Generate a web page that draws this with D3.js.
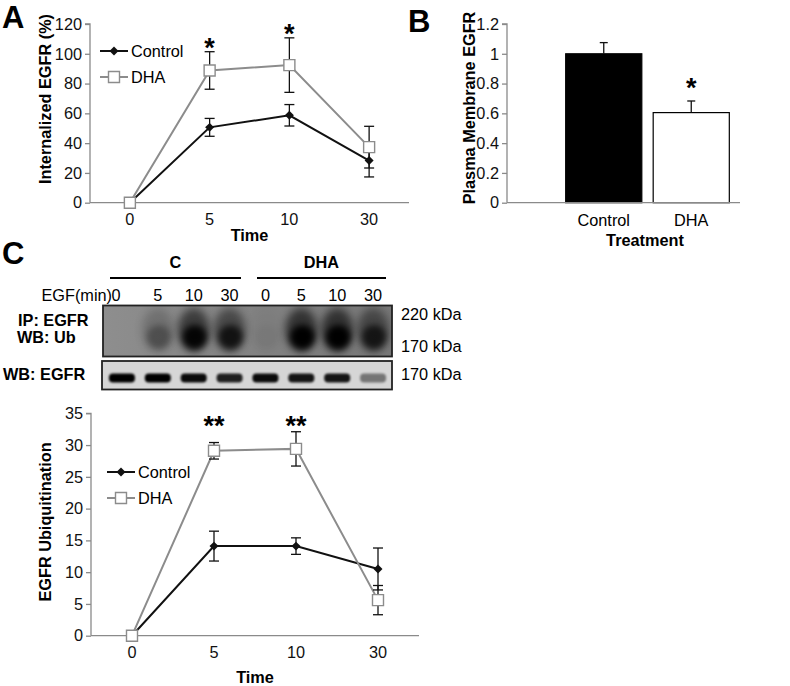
<!DOCTYPE html>
<html><head><meta charset="utf-8">
<script src="https://cdn.jsdelivr.net/npm/d3@7"></script>
<style>
html,body{margin:0;padding:0;background:#fff;}
svg{display:block;font-family:Arial,"Liberation Sans",sans-serif;}
</style></head>
<body><svg id="fig" width="790" height="686"></svg>
<script>
// ---------- DATA ----------
const timeCats = ["0", "5", "10", "30"];
// Panel A: internalized EGFR (%)
const intControl = [0, 50.6, 58.7, 28.3];
const intControlErr = [0, 6, 7.2, 11];
const intDHA = [0, 88.8, 92.4, 37.3];
const intDHAErr = [0, 12.6, 18.3, 14];
const intStars = ["", "*", "*", ""];
const intTicks = [0, 20, 40, 60, 80, 100, 120];
// Panel B: plasma membrane EGFR
const pmCats = ["Control", "DHA"];
const pmValues = [1.0, 0.605];
const pmErr = [0.075, 0.078];
const pmStars = ["", "*"];
const pmTicks = [0, 0.2, 0.4, 0.6, 0.8, 1, 1.2];
// Panel C: EGFR ubiquitination
const ubControl = [0, 14.1, 14.1, 10.5];
const ubControlErr = [0, 2.35, 1.3, 3.3];
const ubDHA = [0, 29.1, 29.4, 5.6];
const ubDHAErr = [0, 1.3, 2.7, 2.3];
const ubStars = ["", "**", "**", ""];
const ubTicks = [0, 5, 10, 15, 20, 25, 30, 35];
// Blot lanes
const lanes = ["C0", "C5", "C10", "C30", "D0", "D5", "D10", "D30"];
const laneLabels = ["0", "5", "10", "30", "0", "5", "10", "30"];
const groups = ["C", "DHA"];
const ubIntensity = [0.0, 0.3, 0.92, 0.75, 0.04, 1, 1, 0.7];
const egfrIntensity = [1, 1, 0.95, 0.85, 0.95, 0.9, 0.9, 0.45];

// ---------- STYLE ----------
const AXIS = "#8a8a8a", GRAY = "#8c8c8c", BLACK = "#111";
const FONT = 16.3;
const svg = d3.select("#fig");

const defs = svg.append("defs");
defs.append("filter").attr("id", "blurBig").attr("x", "-80%").attr("y", "-80%").attr("width", "260%").attr("height", "260%")
  .append("feGaussianBlur").attr("stdDeviation", 4.5);
defs.append("filter").attr("id", "blurMid").attr("x", "-80%").attr("y", "-80%").attr("width", "260%").attr("height", "260%")
  .append("feGaussianBlur").attr("stdDeviation", 3);
defs.append("filter").attr("id", "blurSmall").attr("x", "-50%").attr("y", "-50%").attr("width", "200%").attr("height", "200%")
  .append("feGaussianBlur").attr("stdDeviation", 1.1);
const grad = defs.append("linearGradient").attr("id", "blotBg");
grad.append("stop").attr("offset", "0%").attr("stop-color", "#8e8e8e");
grad.append("stop").attr("offset", "100%").attr("stop-color", "#777");
const clip = defs.append("clipPath").attr("id", "blotClip");
clip.append("rect").attr("x", 103).attr("y", 305.5).attr("width", 289).attr("height", 51);

function panelLetter(t, x, y) {
  svg.append("text").attr("x", x).attr("y", y).attr("font-size", 31).attr("font-weight", "bold").text(t);
}

function lineChart(cfg) {
  const g = svg.append("g");
  const x = d3.scaleBand().domain(timeCats).range([cfg.x0, cfg.x1]);
  const y = d3.scaleLinear().domain([0, cfg.ymax]).range([cfg.yb, cfg.yt]);
  const cx = d => x(d) + x.bandwidth() / 2;
  g.append("line").attr("x1", cfg.x0).attr("x2", cfg.x1).attr("y1", y(0)).attr("y2", y(0)).attr("stroke", AXIS).attr("stroke-width", 1.3);
  const ya = g.append("g").attr("transform", `translate(${cfg.x0},0)`)
    .call(d3.axisLeft(y).tickValues(cfg.ticks).tickSize(5).tickPadding(3).tickFormat(d3.format("")));
  ya.select(".domain").attr("stroke", AXIS).attr("stroke-width", 1.3).attr("d", `M-5,${y(cfg.ymax)}H0V${y(0)}`);
  ya.selectAll(".tick line").attr("stroke", AXIS).attr("stroke-width", 1.3);
  ya.selectAll(".tick text").attr("font-size", FONT).attr("fill", BLACK).attr("font-family", "Arial,'Liberation Sans',sans-serif");
  timeCats.forEach(c => g.append("text").attr("x", cx(c)).attr("y", cfg.tickBase).attr("text-anchor", "middle").attr("font-size", FONT).attr("fill", BLACK).text(c));
  g.append("text").attr("x", (cx(timeCats[0]) + cx(timeCats[3])) / 2).attr("y", cfg.titleBase).attr("text-anchor", "middle")
    .attr("font-size", FONT).attr("font-weight", "bold").text("Time");
  g.append("text").attr("transform", `translate(${cfg.ylabX},${cfg.ylabY}) rotate(-90)`).attr("text-anchor", "middle")
    .attr("font-size", FONT).attr("font-weight", "bold").text(cfg.ylabel);

  const line = d3.line().x((d, i) => cx(timeCats[i])).y(d => y(d));
  const series = [
    { v: cfg.ctrl, e: cfg.ctrlErr, color: BLACK, name: "Control" },
    { v: cfg.dha, e: cfg.dhaErr, color: GRAY, name: "DHA" }
  ];
  series.forEach(s => g.append("path").attr("d", line(s.v)).attr("fill", "none").attr("stroke", s.color).attr("stroke-width", 2));
  series.forEach(s => s.v.forEach((v, i) => {
    if (!s.e[i]) return;
    const X = cx(timeCats[i]);
    g.append("line").attr("x1", X).attr("x2", X).attr("y1", y(v - s.e[i])).attr("y2", y(v + s.e[i])).attr("stroke", BLACK).attr("stroke-width", 1.3);
    [v - s.e[i], v + s.e[i]].forEach(w => g.append("line").attr("x1", X - 5).attr("x2", X + 5).attr("y1", y(w)).attr("y2", y(w)).attr("stroke", BLACK).attr("stroke-width", 1.3));
  }));
  const diamond = d3.symbol(d3.symbolSquare, 40)();
  const square = d3.symbol(d3.symbolSquare, 121)();
  cfg.ctrl.forEach((v, i) => g.append("path").attr("d", diamond).attr("transform", `translate(${cx(timeCats[i])},${y(v)}) rotate(45)`).attr("fill", BLACK));
  cfg.dha.forEach((v, i) => g.append("path").attr("d", square).attr("transform", `translate(${cx(timeCats[i])},${y(v)})`).attr("fill", "#fff").attr("stroke", GRAY).attr("stroke-width", 1.4));
  cfg.stars.forEach((s, i) => {
    if (!s) return;
    const top = cfg.starY != null ? cfg.starY : y(cfg.dha[i] + cfg.dhaErr[i]) + 5;
    g.append("text").attr("x", cx(timeCats[i])).attr("y", top).attr("text-anchor", "middle").attr("font-size", 27).attr("font-weight", "bold").text(s);
  });
  series.forEach((s, k) => {
    const ly = cfg.legY + k * 26;
    g.append("line").attr("x1", cfg.legX).attr("x2", cfg.legX + 28).attr("y1", ly).attr("y2", ly).attr("stroke", s.color).attr("stroke-width", 2);
    if (k === 0) g.append("path").attr("d", diamond).attr("transform", `translate(${cfg.legX + 14},${ly}) rotate(45)`).attr("fill", BLACK);
    else g.append("path").attr("d", square).attr("transform", `translate(${cfg.legX + 14},${ly})`).attr("fill", "#fff").attr("stroke", GRAY).attr("stroke-width", 1.4);
    g.append("text").attr("x", cfg.legX + 31).attr("y", ly).attr("dy", "0.35em").attr("font-size", FONT).text(s.name);
  });
}

// ---------- Panel A ----------
panelLetter("A", 2, 28);
lineChart({
  x0: 90, x1: 409, yt: 24, yb: 202.7, ymax: 120, ticks: intTicks,
  ctrl: intControl, ctrlErr: intControlErr, dha: intDHA, dhaErr: intDHAErr, stars: intStars,
  tickBase: 225, titleBase: 241, ylabX: 51, ylabY: 99, ylabel: "Internalized EGFR (%)",
  legX: 100, legY: 51
});

// ---------- Panel B ----------
panelLetter("B", 408, 32);
{
  const g = svg.append("g");
  const x = d3.scaleBand().domain(pmCats).range([560, 735]).paddingInner(0.13).paddingOuter(0.065);
  const y = d3.scaleLinear().domain([0, 1.2]).range([202.7, 24]);
  const ya = g.append("g").attr("transform", "translate(507,0)")
    .call(d3.axisLeft(y).tickValues(pmTicks).tickSize(5).tickPadding(3).tickFormat(d3.format("")));
  ya.select(".domain").attr("stroke", AXIS).attr("stroke-width", 1.3).attr("d", `M-5,${y(1.2)}H0V${y(0)}`);
  ya.selectAll(".tick line").attr("stroke", AXIS).attr("stroke-width", 1.3);
  ya.selectAll(".tick text").attr("font-size", FONT).attr("fill", BLACK).attr("font-family", "Arial,'Liberation Sans',sans-serif");
  pmCats.forEach((c, i) => {
    g.append("rect").attr("x", x(c)).attr("width", x.bandwidth()).attr("y", y(pmValues[i])).attr("height", y(0) - y(pmValues[i]))
      .attr("fill", i === 0 ? "#000" : "#fff").attr("stroke", "#000").attr("stroke-width", 1.2);
    const X = x(c) + x.bandwidth() / 2;
    g.append("line").attr("x1", X).attr("x2", X).attr("y1", y(pmValues[i])).attr("y2", y(pmValues[i] + pmErr[i])).attr("stroke", BLACK).attr("stroke-width", 1.3);
    g.append("line").attr("x1", X - 4).attr("x2", X + 4).attr("y1", y(pmValues[i] + pmErr[i])).attr("y2", y(pmValues[i] + pmErr[i])).attr("stroke", BLACK).attr("stroke-width", 1.3);
    if (pmStars[i]) g.append("text").attr("x", X).attr("y", y(pmValues[i] + pmErr[i]) - 4).attr("text-anchor", "middle").attr("font-size", 27).attr("font-weight", "bold").text(pmStars[i]);
    g.append("text").attr("x", X).attr("y", 226).attr("text-anchor", "middle").attr("font-size", FONT).text(c);
  });
  g.append("line").attr("x1", 507).attr("x2", 740).attr("y1", y(0)).attr("y2", y(0)).attr("stroke", AXIS).attr("stroke-width", 1.3);
  g.append("text").attr("x", 645).attr("y", 246).attr("text-anchor", "middle").attr("font-size", FONT).attr("font-weight", "bold").text("Treatment");
  g.append("text").attr("transform", "translate(475,108) rotate(-90)").attr("text-anchor", "middle").attr("font-size", FONT).attr("font-weight", "bold").text("Plasma Membrane EGFR");
}

// ---------- Panel C: blot ----------
panelLetter("C", 2, 264);
{
  const g = svg.append("g");
  const lx = d3.scaleBand().domain(lanes).range([104, 391]);
  const lc = d => lx(d) + lx.bandwidth() / 2;
  const groupSpans = [[110, 241], [257, 386]];
  groups.forEach((gr, i) => {
    g.append("line").attr("x1", groupSpans[i][0]).attr("x2", groupSpans[i][1]).attr("y1", 278).attr("y2", 278).attr("stroke", "#000").attr("stroke-width", 2.2);
    g.append("text").attr("x", (groupSpans[i][0] + groupSpans[i][1]) / 2).attr("y", 268).attr("text-anchor", "middle").attr("font-size", FONT).attr("font-weight", "bold").text(gr);
  });
  g.append("text").attr("x", 112).attr("y", 301).attr("text-anchor", "end").attr("font-size", FONT).text("EGF(min)");
  lanes.forEach((l, i) => g.append("text").attr("x", lc(l) - (i === 0 ? 6 : 0)).attr("y", 301).attr("text-anchor", "middle").attr("font-size", FONT).text(laneLabels[i]));
  g.append("rect").attr("x", 103).attr("y", 305.5).attr("width", 289).attr("height", 51).attr("fill", "url(#blotBg)");
  const tb = g.append("g").attr("clip-path", "url(#blotClip)");
  lanes.forEach((l, i) => {
    tb.append("ellipse").attr("cx", lc(l)).attr("cy", 330).attr("rx", 16).attr("ry", 22)
      .attr("fill", "#000").attr("opacity", ubIntensity[i] * 0.6).attr("filter", "url(#blurBig)");
    tb.append("ellipse").attr("cx", lc(l) + 1).attr("cy", 337).attr("rx", 12).attr("ry", 12)
      .attr("fill", "#000").attr("opacity", ubIntensity[i]).attr("filter", "url(#blurMid)");
  });
  g.append("rect").attr("x", 103).attr("y", 305.5).attr("width", 289).attr("height", 51).attr("fill", "none").attr("stroke", "#222").attr("stroke-width", 1.8);
  g.append("rect").attr("x", 102).attr("y", 361).attr("width", 290).attr("height", 28.5).attr("fill", "#d6d6d6");
  lanes.forEach((l, i) => {
    g.append("rect").attr("x", lc(l) - 13).attr("y", 373.5).attr("width", 26).attr("height", 9).attr("rx", 4)
      .attr("fill", "#000").attr("opacity", egfrIntensity[i]).attr("filter", "url(#blurSmall)");
  });
  g.append("rect").attr("x", 102).attr("y", 361).attr("width", 290).attr("height", 28.5).attr("fill", "none").attr("stroke", "#222").attr("stroke-width", 1.8);
  g.append("text").attr("x", 18).attr("y", 326).attr("font-size", FONT).attr("font-weight", "bold").text("IP: EGFR");
  g.append("text").attr("x", 17).attr("y", 343).attr("font-size", FONT).attr("font-weight", "bold").text("WB: Ub");
  g.append("text").attr("x", 3).attr("y", 380).attr("font-size", FONT).attr("font-weight", "bold").text("WB: EGFR");
  [["220 kDa", 320], ["170 kDa", 352], ["170 kDa", 380]].forEach(d =>
    g.append("text").attr("x", 401).attr("y", d[1]).attr("font-size", FONT).text(d[0]));
}

// ---------- Panel C: chart ----------
lineChart({
  x0: 91, x1: 419, yt: 413.3, yb: 635.7, ymax: 35, ticks: ubTicks,
  ctrl: ubControl, ctrlErr: ubControlErr, dha: ubDHA, dhaErr: ubDHAErr, stars: ubStars, starY: 435,
  tickBase: 658, titleBase: 683, ylabX: 51, ylabY: 522, ylabel: "EGFR Ubiquitination",
  legX: 107, legY: 472
});
</script></body></html>
